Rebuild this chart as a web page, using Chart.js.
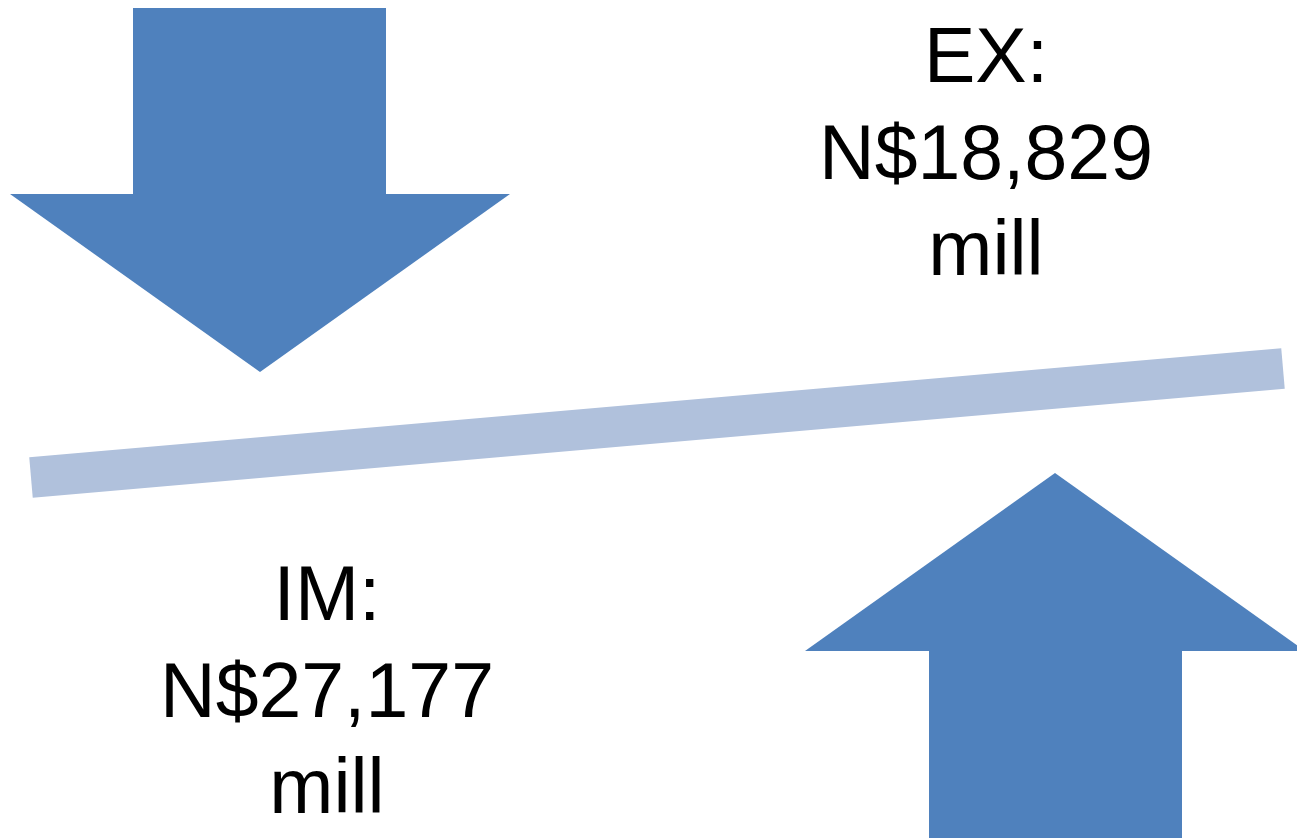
<!DOCTYPE html>
<html lang="en">

<head>
    <meta charset="UTF-8">
    <title>EX / IM</title>
    <script src="https://cdn.jsdelivr.net/npm/chart.js"></script>
    <style>
        html, body {
            margin: 0;
            padding: 0;
            background: #fff;
        }

        .wrap {
            width: 1297px;
            height: 838px;
            position: relative;
        }
    </style>
</head>

<body>
    <div class="wrap">
        <canvas id="myChart"></canvas>
    </div>
    <script>
        // Dados
        const categories = ['EX', 'IM'];
        const values = [18829, 27177];
        const currency = 'N$';
        const unit = 'mill';

        // Cores
        const arrowColor = '#4F81BD';
        const beamColor = '#B0C1DC';

        // Formas (coordenadas do diagrama, eixo y para baixo)
        const beam = [{ x: 31, y: 477.5 }, { x: 1283, y: 368.5 }];
        const downHead = [{ x: 10, y: 194 }, { x: 260, y: 372 }, { x: 510, y: 194 }];
        const downShaft = [{ x: 133, y: 8 }, { x: 386, y: 8 }];
        const upHead = [{ x: 805, y: 651 }, { x: 1055, y: 473 }, { x: 1305, y: 651 }];
        const upShaft = [{ x: 929, y: 651 }, { x: 1182, y: 651 }];

        // Posição dos textos: EX em cima à direita, IM em baixo à esquerda
        const labelPos = {
            EX: { x: 986, y: 82 },
            IM: { x: 327, y: 620 }
        };
        const lineGap = 96.5;

        function labelLines(i) {
            return [
                categories[i] + ':',
                currency + values[i].toLocaleString('en-US'),
                unit
            ];
        }

        function shape(data, color, fillValue) {
            return {
                data: data,
                showLine: true,
                pointRadius: 0,
                borderWidth: 0,
                borderColor: color,
                backgroundColor: color,
                fill: { value: fillValue },
                tension: 0
            };
        }

        const textPlugin = {
            id: 'textos',
            afterDatasetsDraw(chart) {
                const ctx = chart.ctx;
                const sx = chart.scales.x;
                const sy = chart.scales.y;
                ctx.save();
                ctx.fillStyle = '#000';
                ctx.font = '77px "Liberation Sans", Arial, sans-serif';
                ctx.textAlign = 'center';
                ctx.textBaseline = 'alphabetic';
                categories.forEach((cat, i) => {
                    const p = labelPos[cat];
                    labelLines(i).forEach((t, k) => {
                        ctx.fillText(t, sx.getPixelForValue(p.x), sy.getPixelForValue(p.y + k * lineGap));
                    });
                });
                ctx.restore();
            }
        };

        const ctx = document.getElementById('myChart').getContext('2d');
        new Chart(ctx, {
            type: 'scatter',
            data: {
                datasets: [
                    {
                        data: beam,
                        showLine: true,
                        pointRadius: 0,
                        borderWidth: 40.5,
                        borderColor: beamColor,
                        borderCapStyle: 'butt',
                        fill: false
                    },
                    shape(downHead, arrowColor, 194),
                    shape(downShaft, arrowColor, 194),
                    shape(upHead, arrowColor, 651),
                    shape(upShaft, arrowColor, 850)
                ]
            },
            options: {
                responsive: true,
                maintainAspectRatio: false,
                animation: false,
                layout: { padding: 0 },
                plugins: {
                    legend: { display: false },
                    tooltip: { enabled: false }
                },
                scales: {
                    x: { type: 'linear', min: 0, max: 1297, display: false },
                    y: { type: 'linear', min: 0, max: 838, reverse: true, display: false }
                }
            },
            plugins: [textPlugin]
        });
    </script>
</body>

</html>
